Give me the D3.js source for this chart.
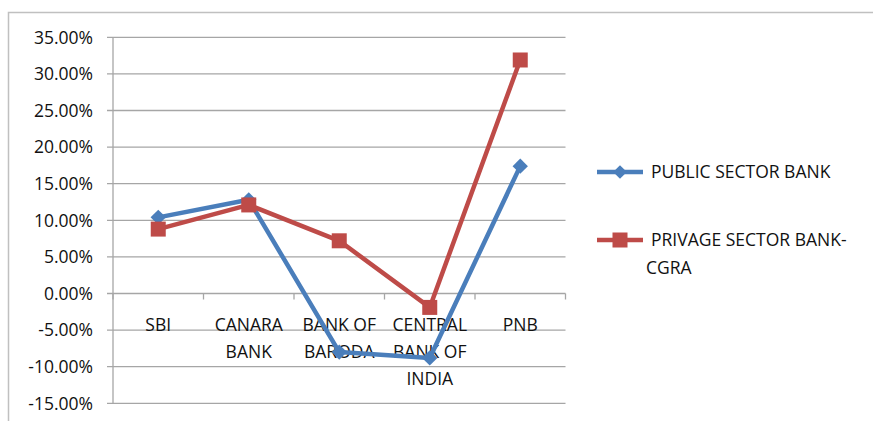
<!DOCTYPE html>
<html><head><meta charset="utf-8">
<script src="https://cdn.jsdelivr.net/npm/d3@7"></script>
<style>body{margin:0;background:#fff;} text{font-family:"Open Sans",sans-serif;}</style>
</head><body>
<svg id="c" width="873" height="421"></svg>
<script>
const categories = [["SBI"],["CANARA","BANK"],["BANK OF","BARODA"],["CENTRAL","BANK OF","INDIA"],["PNB"]];
const publicSector = [0.104, 0.128, -0.080, -0.088, 0.174];
const privateSector = [0.088, 0.121, 0.072, -0.019, 0.319];
const yTicks = [-0.15,-0.10,-0.05,0,0.05,0.10,0.15,0.20,0.25,0.30,0.35];
const seriesNames = [["PUBLIC SECTOR BANK"],["PRIVAGE SECTOR BANK-","CGRA"]];
const colors = ["#4a7ebb","#be4b48"];

const svg = d3.select("#c");
const L=113, R=565.5, T=37.3, B=403.3;
const FS = 17.5;
svg.append("rect").attr("x",8.5).attr("y",12.5).attr("width",880).attr("height",420)
  .attr("fill","none").attr("stroke","#c0c0c0").attr("stroke-width",1.5);

const y = d3.scaleLinear().domain([-0.15,0.35]).range([B,T]);
const x = d3.scaleBand().domain(d3.range(categories.length)).range([L,R]);
const cx = i => x(i)+x.bandwidth()/2;

svg.append("g").selectAll("line").data(yTicks).join("line")
  .attr("x1",L-6).attr("x2",R).attr("y1",d=>y(d)).attr("y2",d=>y(d))
  .attr("stroke","#a6a6a6").attr("stroke-width",1.3);
svg.append("line").attr("x1",L).attr("x2",L).attr("y1",T).attr("y2",B).attr("stroke","#a6a6a6").attr("stroke-width",1.3);
const fmt = d => d3.format(".2%")(d).replace("\u2212","-");
svg.append("g").selectAll("text").data(yTicks).join("text")
  .attr("x",L-20).attr("y",d=>y(d)).attr("dy","0.36em").attr("text-anchor","end")
  .attr("font-size",FS).attr("fill","#111").text(d=>fmt(d));
svg.append("g").selectAll("line").data(d3.range(categories.length+1)).join("line")
  .attr("x1",i=>L+i*x.bandwidth()).attr("x2",i=>L+i*x.bandwidth())
  .attr("y1",y(0)).attr("y2",y(0)+6).attr("stroke","#a6a6a6").attr("stroke-width",1.3);
const cl = svg.append("g").selectAll("text").data(categories).join("text")
  .attr("text-anchor","middle").attr("font-size",FS).attr("fill","#111");
cl.each(function(d,i){
  d3.select(this).selectAll("tspan").data(d).join("tspan")
    .attr("x",cx(i)).attr("y",(t,j)=>y(0)+37+j*27).text(t=>t);
});

const line = d3.line().x((d,i)=>cx(i)).y(d=>y(d));
[publicSector, privateSector].forEach((s,k)=>{
  svg.append("path").datum(s).attr("d",line).attr("fill","none")
    .attr("stroke",colors[k]).attr("stroke-width",4.5).attr("stroke-linejoin","round");
});
svg.append("g").selectAll("path").data(publicSector).join("path")
  .attr("transform",(d,i)=>`translate(${cx(i)},${y(d)}) rotate(45)`)
  .attr("d",d3.symbol().type(d3.symbolSquare2).size(150)()).attr("fill",colors[0]);
svg.append("g").selectAll("rect").data(privateSector).join("rect")
  .attr("x",(d,i)=>cx(i)-7.5).attr("y",d=>y(d)-7.5).attr("width",15).attr("height",15).attr("fill",colors[1]);

const ly = [172, 240];
seriesNames.forEach((n,k)=>{
  svg.append("line").attr("x1",597).attr("x2",643).attr("y1",ly[k]).attr("y2",ly[k]).attr("stroke",colors[k]).attr("stroke-width",4.5);
  if(k===0) svg.append("path").attr("transform",`translate(620,${ly[k]}) rotate(45)`)
    .attr("d",d3.symbol().type(d3.symbolSquare2).size(120)()).attr("fill",colors[k]);
  else svg.append("rect").attr("x",612.5).attr("y",ly[k]-7.5).attr("width",15).attr("height",15).attr("fill",colors[k]);
  const t = svg.append("text").attr("font-size",FS).attr("fill","#111");
  n.forEach((s,j)=>t.append("tspan").attr("x",j===0?651:646).attr("y",ly[k]+6+j*28).text(s));
});
</script>
</body></html>
